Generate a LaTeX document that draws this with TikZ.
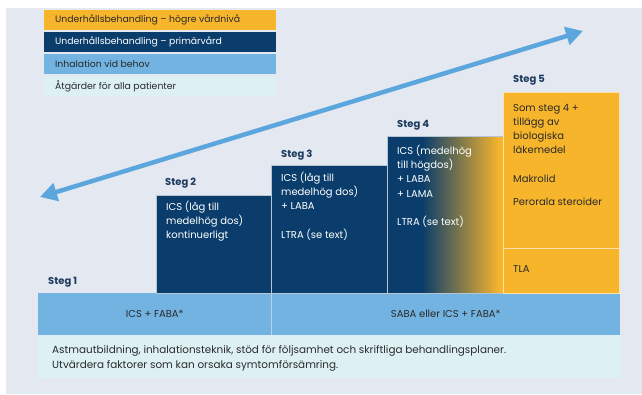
\documentclass[tikz,border=0pt]{standalone}
\usepackage{fontspec}
\setmainfont{Poppins}
\usetikzlibrary{arrows.meta}

\definecolor{pagebg}{HTML}{E4E8F1}
\definecolor{stepnavy}{HTML}{0A3D6B}
\definecolor{steporange}{HTML}{F7B52C}
\definecolor{relieverblue}{HTML}{72B3E1}
\definecolor{palecyan}{HTML}{DDF1F4}
\definecolor{trendblue}{HTML}{5BA6DD}
\definecolor{labelnavy}{HTML}{1C3B5E}
\definecolor{inktext}{HTML}{2A2A2A}

% navy on the left third, blending into orange towards the right edge
\pgfdeclarehorizontalshading{navytoorange}{100bp}{%
  color(0bp)=(stepnavy); color(40bp)=(stepnavy);
  color(73.5bp)=(steporange); color(100bp)=(steporange)}

\tikzset{
  legendrow/.style={anchor=north west, inner sep=0pt, minimum width=232pt,
    minimum height=20pt},
  legendtext/.style={anchor=west, inner sep=0pt,
    font=\fontsize{9.3}{12}\selectfont},
  stepbox/.style={anchor=north west, inner sep=0pt, draw=white!70!stepnavy,
    line width=0.5pt},
  steptitle/.style={anchor=west, inner sep=0pt, text=labelnavy,
    font=\fontsize{10}{12}\selectfont\bfseries},
  boxtext/.style={anchor=north west, inner sep=0pt, align=left,
    font=\fontsize{10}{14.2}\selectfont},
  bandtext/.style={inner sep=0pt, text=inktext,
    font=\fontsize{10}{12}\selectfont},
}

\begin{document}
\begin{tikzpicture}[x=1pt, y=-1pt]
  \useasboundingbox (0,0) rectangle (642,394);
  \fill[pagebg] (6,8) rectangle (642,394);

  % legend
  \node[legendrow, fill=steporange]   (leg1) at (44,10) {};
  \node[legendrow, fill=stepnavy]     (leg2) at (44,32) {};
  \node[legendrow, fill=relieverblue] (leg3) at (44,54) {};
  \node[legendrow, fill=palecyan]     (leg4) at (44,76) {};
  \node[legendtext, text=inktext] (legt1) at ([xshift=11pt]leg1.west) {Underhållsbehandling – högre vårdnivå};
  \node[legendtext, text=white]   (legt2) at ([xshift=11pt]leg2.west) {Underhållsbehandling – primärvård};
  \node[legendtext, text=inktext] (legt3) at ([xshift=11pt]leg3.west) {Inhalation vid behov};
  \node[legendtext, text=inktext] (legt4) at ([xshift=11pt]leg4.west) {Åtgärder för alla patienter};

  % escalation arrow
  \coordinate (trendlow)  at (40,197);
  \coordinate (trendhigh) at (583,31);
  \draw[trendblue, line width=4.5pt,
        {Triangle[length=17pt,width=18pt]}-{Triangle[length=17pt,width=18pt]}]
    (trendlow) -- (trendhigh);

  % bottom bands
  \node[anchor=north west, inner sep=0pt, fill=palecyan, minimum width=582pt,
        minimum height=43pt] (found) at (38,335) {};
  \node[anchor=north west, inner sep=0pt, fill=relieverblue, minimum width=233pt,
        minimum height=42pt] (base1) at (38,293) {};
  \node[anchor=north west, inner sep=0pt, fill=relieverblue, minimum width=349pt,
        minimum height=42pt] (base2) at (271,293) {};
  \draw[white!45!relieverblue, line width=0.6pt] (base1.north east) -- (base1.south east);
  \node[bandtext] (base1t) at (base1.center) {ICS + FABA*};
  \node[bandtext] (base2t) at (base2.center) {SABA eller ICS + FABA*};
  \node[anchor=north west, inner sep=0pt, align=left, text=inktext,
        font=\fontsize{10.4}{15}\selectfont] (foundt) at (52,345)
    {Astmautbildning, inhalationsteknik, stöd för följsamhet och skriftliga behandlingsplaner.\\
     Utvärdera faktorer som kan orsaka symtomförsämring.};

  % step boxes
  \node[stepbox, fill=stepnavy, minimum width=115pt, minimum height=98pt] (s2) at (156,195) {};
  \node[stepbox, fill=stepnavy, minimum width=116pt, minimum height=128pt] (s3) at (271,165) {};
  \node[stepbox, shading=navytoorange, minimum width=116pt, minimum height=157pt] (s4) at (387,136) {};
  \node[stepbox, fill=steporange, draw=white!60!steporange, minimum width=116pt, minimum height=156pt] (s5) at (503,92) {};
  \node[stepbox, fill=steporange, draw=white!60!steporange, minimum width=116pt, minimum height=45pt] (s5b) at (503,248) {};

  % step titles
  \node[steptitle] (st1) at (48,282) {Steg 1};
  \node[steptitle] (st2) at (165,183) {Steg 2};
  \node[steptitle] (st3) at (281,155) {Steg 3};
  \node[steptitle] (st4) at (397,125) {Steg 4};
  \node[steptitle] (st5) at (513,80)  {Steg 5};

  % step contents
  \node[boxtext, text=white] (s2t) at (166,201) {ICS (låg till\\medelhög dos)\\kontinuerligt};
  \node[boxtext, text=white] (s3t) at (281,172) {ICS (låg till\\medelhög dos)\\+ LABA\\[14.2pt]LTRA (se text)};
  \node[boxtext, text=white] (s4t) at (397,145) {ICS (medelhög\\till högdos)\\+ LABA\\+ LAMA\\[14.2pt]LTRA (se text)};
  \node[boxtext, text=inktext] (s5t) at (513,104) {Som steg 4 +\\tillägg av\\biologiska\\läkemedel\\[14.5pt]Makrolid\\[9pt]Perorala steroider};
  \node[boxtext, text=inktext] (s5bt) at (513,265) {TLA};
\end{tikzpicture}
\end{document}
